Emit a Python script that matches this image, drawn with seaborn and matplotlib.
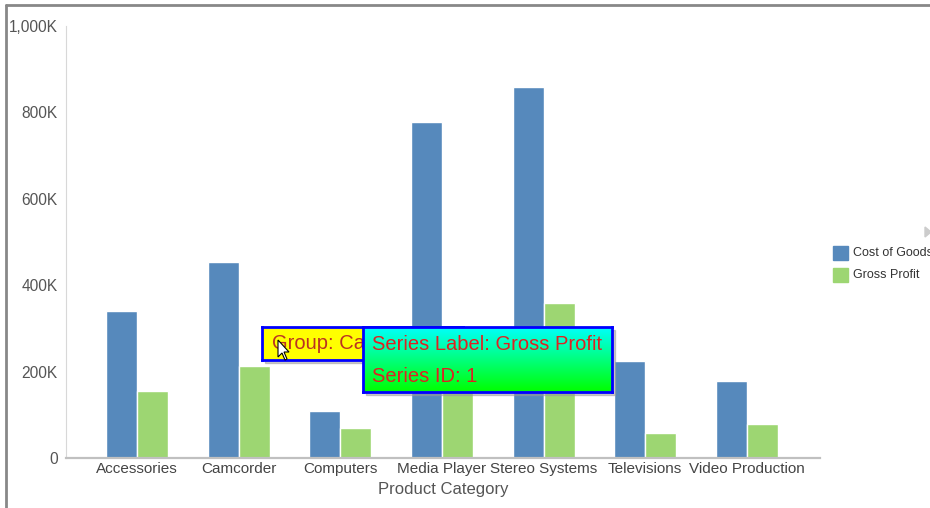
import numpy as np
import pandas as pd
import seaborn as sns
import matplotlib.pyplot as plt
from matplotlib.patches import Rectangle, Polygon
from matplotlib.ticker import FuncFormatter

categories = ["Accessories", "Camcorder", "Computers", "Media Player",
              "Stereo Systems", "Televisions", "Video Production"]
cost_of_goods = [340, 454, 109, 778, 859, 225, 178]
gross_profit = [155, 213, 69, 230, 359, 58, 79]
series_names = ["Cost of Goods", "Gross Profit"]
y_ticks = [0, 200, 400, 600, 800, 1000]


def main():
    df = pd.DataFrame({
        "Product Category": categories * 2,
        "Value": cost_of_goods + gross_profit,
        "Series": [series_names[0]] * len(categories) + [series_names[1]] * len(categories),
    })

    sns.set_style("white")
    plt.rcParams["font.family"] = ["Arial", "Liberation Sans", "DejaVu Sans"]

    fig = plt.figure(figsize=(9.3, 5.08), dpi=100)
    ax = fig.add_axes([66 / 930, 50 / 508, 754 / 930, 432 / 508])
    palette = {"Cost of Goods": "#5689bc", "Gross Profit": "#9dd672"}
    sns.barplot(data=df, x="Product Category", y="Value", hue="Series",
                palette=palette, width=0.61, saturation=1, ax=ax, legend=False)

    ax.set_xlim(-0.7, 6.72)
    ax.set_ylim(0, 1000)
    ax.set_yticks(y_ticks)
    ax.yaxis.set_major_formatter(FuncFormatter(lambda v, p: "0" if v == 0 else f"{int(v):,}K"))
    ax.tick_params(axis="y", colors="#cccccc", labelcolor="#555555", labelsize=11.2, length=4, pad=2)
    ax.tick_params(axis="x", length=0, labelcolor="#444444", labelsize=11, pad=3)
    for s in ["top", "right"]:
        ax.spines[s].set_visible(False)
    ax.spines["left"].set_color("#d8d8d8")
    ax.spines["bottom"].set_color("#c0c0c0")
    ax.spines["bottom"].set_linewidth(1.6)
    ax.set_ylabel("")
    ax.set_xlabel("Product Category", fontsize=12, color="#555555", labelpad=4)

    # outer frame (left and top edges)
    fig.add_artist(plt.Line2D([6 / 930, 6 / 930], [0, 503 / 508], color="#888888", lw=2, transform=fig.transFigure))
    fig.add_artist(plt.Line2D([6 / 930, 1], [503 / 508, 503 / 508], color="#888888", lw=2, transform=fig.transFigure))

    # legend
    for i, name in enumerate(series_names):
        y = 508 - 253 - i * 22
        fig.add_artist(Rectangle((833 / 930, (y - 7) / 508), 15 / 930, 14 / 508,
                                 transform=fig.transFigure, color=palette[name]))
        fig.text(853 / 930, y / 508, name, fontsize=9, color="#333333", va="center")
    fig.add_artist(Polygon([[925 / 930, (508 - 227) / 508],
                            [931 / 930, (508 - 232) / 508],
                            [925 / 930, (508 - 237) / 508]],
                           closed=True, transform=fig.transFigure, color="#cccccc"))

    # tooltip: Group (yellow), partly hidden behind the series tooltip
    fig.add_artist(Rectangle((265 / 930, (508 - 363) / 508), 201 / 930, 33 / 508,
                             transform=fig.transFigure, color="#999999", alpha=0.5, zorder=5))
    grp = fig.add_axes([262 / 930, (508 - 360) / 508, 201 / 930, 33 / 508], zorder=6)
    grp.set_facecolor("#ffff00")
    grp.set_xticks([])
    grp.set_yticks([])
    for s in grp.spines.values():
        s.set_color("#0000ff")
        s.set_linewidth(2)
    grp.text(0.05, 0.5, "Group: Camcorder", fontsize=14.5, color="#bb3322",
             va="center", transform=grp.transAxes, clip_on=True)

    # tooltip: Series (gradient)
    fig.add_artist(Rectangle((366 / 930, (508 - 395) / 508), 249 / 930, 65 / 508,
                             transform=fig.transFigure, color="#999999", alpha=0.5, zorder=8))
    tip = fig.add_axes([363 / 930, (508 - 392) / 508, 249 / 930, 65 / 508], zorder=9)
    grad = np.linspace(0, 1, 64)[:, None]
    c0 = np.array([0.0, 1.0, 1.0])
    c1 = np.array([0.0, 1.0, 0.0])
    img = c0[None, None, :] * (1 - grad[:, :, None]) + c1[None, None, :] * grad[:, :, None]
    tip.imshow(img, aspect="auto", extent=[0, 1, 0, 1])
    tip.set_xticks([])
    tip.set_yticks([])
    for s in tip.spines.values():
        s.set_color("#0000ff")
        s.set_linewidth(2)
    tip.text(0.035, 0.73, "Series Label: Gross Profit", fontsize=14.5, color="#dd2222",
             va="center", transform=tip.transAxes)
    tip.text(0.035, 0.24, "Series ID: 1", fontsize=14.5, color="#dd2222",
             va="center", transform=tip.transAxes)

    # mouse cursor
    cx, cy = 278, 340
    pts = [(0, 0), (0, 17), (4, 13), (7, 20), (9, 19), (6, 12), (11, 12)]
    fig.add_artist(Polygon([[(cx + px) / 930, (508 - cy - py) / 508] for px, py in pts], closed=True,
                           transform=fig.transFigure, facecolor="white", edgecolor="black", lw=0.8, zorder=8))

    fig.savefig("out.png", dpi=100)


if __name__ == "__main__":
    main()
